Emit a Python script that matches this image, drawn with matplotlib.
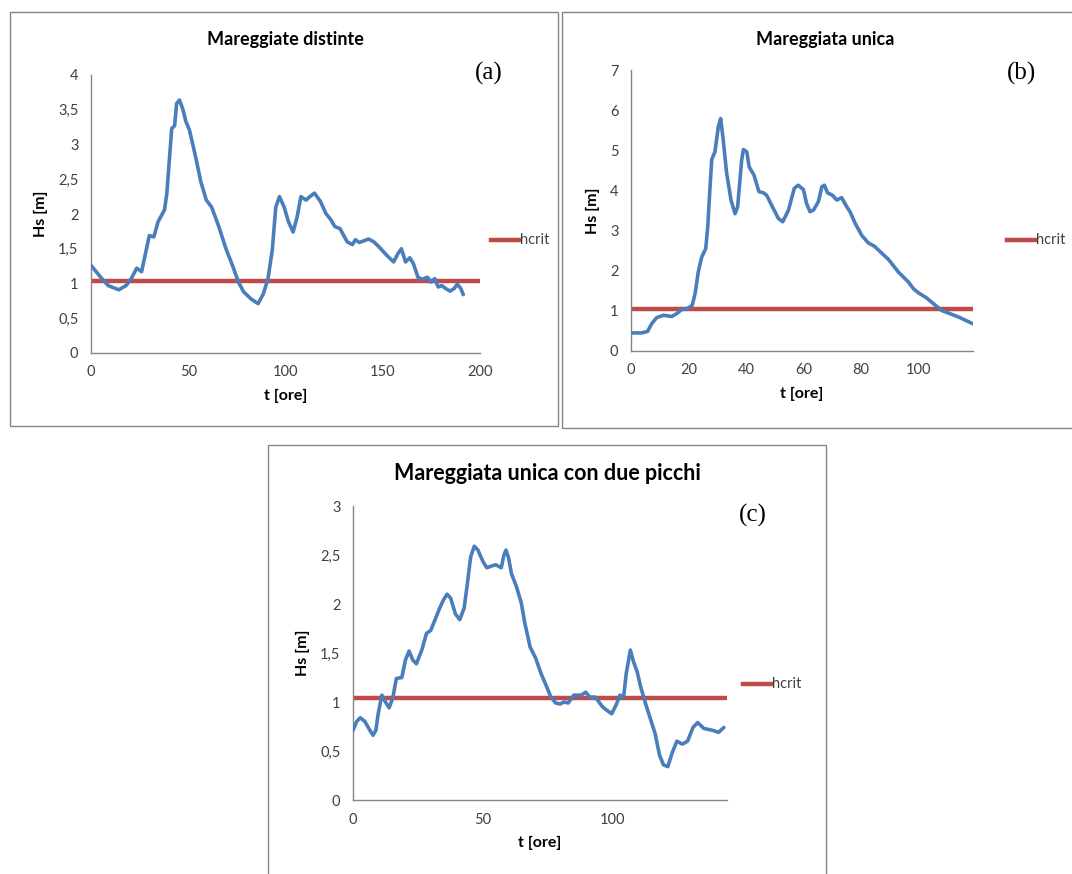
import matplotlib
matplotlib.use('Agg')
import matplotlib.pyplot as plt
from matplotlib.patches import Rectangle
from matplotlib.ticker import FuncFormatter, MultipleLocator

# --- data ---
t_a = [0, 5, 8.8, 14.3, 18, 20.7, 23.5, 26, 28, 30, 32.3, 34.5, 37.8, 39, 41.5, 43, 44,
       45.5, 47.3, 48.8, 50.6, 53.8, 56.5, 59.3, 62, 65.7, 69.4, 73, 75.8, 78.5, 82.2,
       85.9, 88.6, 91, 93.2, 95, 96.9, 99.3, 101.5, 103.9, 106, 107.9, 110.6, 112.5,
       114.9, 118, 120.7, 123.5, 125.3, 128, 131.7, 134.4, 135.9, 138, 142.7, 145.4,
       148, 151.9, 155.6, 157.8, 159.6, 161.7, 163.9, 165.7, 168.1, 170.3, 173, 174.9,
       176.7, 178.5, 180.4, 182.2, 184.6, 186.8, 188.3, 190.1, 191.4]
hs_a = [1.26, 1.09, 0.97, 0.91, 0.97, 1.07, 1.22, 1.17, 1.43, 1.69, 1.67, 1.89, 2.06, 2.30,
        3.23, 3.27, 3.59, 3.64, 3.50, 3.33, 3.21, 2.82, 2.46, 2.20, 2.10, 1.82, 1.50, 1.24,
        1.02, 0.88, 0.78, 0.71, 0.85, 1.07, 1.48, 2.10, 2.25, 2.10, 1.89, 1.74, 1.96, 2.25,
        2.20, 2.25, 2.30, 2.18, 2.01, 1.91, 1.82, 1.79, 1.60, 1.56, 1.63, 1.59, 1.64, 1.60,
        1.53, 1.41, 1.31, 1.43, 1.50, 1.31, 1.37, 1.29, 1.09, 1.06, 1.09, 1.02, 1.07, 0.95,
        0.97, 0.93, 0.89, 0.93, 0.99, 0.93, 0.84]

t_b = [0, 3.7, 5.8, 7.2, 8.9, 11.3, 14.2, 15.9, 17.6, 20, 21.3, 22.3, 23.4, 24.6, 26, 26.7,
       27.5, 28.1, 29.2, 30.4, 31.2, 32.1, 33.3, 34.8, 36.2, 37.1, 38.5, 39.1, 40.3, 41.1,
       42.8, 44.5, 46.1, 47.2, 49.5, 51.3, 52.8, 54.8, 56.8, 58.2, 60, 61.1, 62.3, 63.5,
       65.2, 66.4, 67.3, 68.4, 70.1, 71.6, 73.3, 75.1, 76.2, 78, 80.3, 82.6, 84.7, 87.2,
       89.6, 93, 96.5, 98.3, 100, 102.9, 105.2, 108.1, 111, 114.5, 118.9]
hs_b = [0.45, 0.45, 0.49, 0.68, 0.83, 0.89, 0.86, 0.93, 1.03, 1.07, 1.14, 1.43, 1.97, 2.34,
        2.55, 3.09, 4.09, 4.77, 4.96, 5.59, 5.79, 5.25, 4.42, 3.76, 3.42, 3.59, 4.75, 5.02,
        4.96, 4.59, 4.38, 3.97, 3.94, 3.88, 3.55, 3.30, 3.22, 3.51, 4.05, 4.13, 4.02, 3.67,
        3.47, 3.51, 3.72, 4.09, 4.13, 3.94, 3.88, 3.76, 3.82, 3.59, 3.47, 3.18, 2.88, 2.69,
        2.61, 2.44, 2.28, 1.97, 1.72, 1.55, 1.45, 1.32, 1.18, 1.01, 0.93, 0.83, 0.68]

t_c = [0, 1.4, 2.8, 4.6, 6.3, 7.7, 8.8, 9.7, 11.1, 12.5, 13.9, 15.3, 16.7, 18.8, 20.2, 21.6,
       23, 24.4, 26.5, 28.3, 29.9, 31.3, 33.4, 34.8, 36.2, 37.6, 39.4, 41.1, 42.8, 43.9,
       45.3, 46.7, 48.1, 50.1, 51.5, 53.6, 55, 57.1, 58.1, 58.9, 59.9, 61, 62.9, 64.8,
       66.2, 68.2, 70.3, 72.4, 74.5, 76.2, 78, 79.8, 81.2, 82.9, 85, 87.8, 89.6, 91.2,
       93.3, 96.1, 97.5, 99.6, 101.3, 102.8, 104.2, 105.2, 106.8, 108, 109.4, 110.7,
       112.8, 114.6, 116.3, 118, 119.5, 121.2, 123, 124.7, 126.8, 128.8, 130.9, 132.7,
       135.1, 138.6, 140.7, 142.8]
hs_c = [0.71, 0.80, 0.84, 0.80, 0.72, 0.66, 0.71, 0.88, 1.07, 1.00, 0.94, 1.04, 1.24, 1.25,
        1.43, 1.52, 1.43, 1.39, 1.53, 1.70, 1.73, 1.82, 1.96, 2.04, 2.10, 2.06, 1.90, 1.84,
        1.96, 2.18, 2.48, 2.59, 2.55, 2.43, 2.37, 2.39, 2.40, 2.37, 2.50, 2.55, 2.47, 2.31,
        2.18, 2.01, 1.80, 1.56, 1.45, 1.29, 1.16, 1.05, 0.99, 0.98, 1.00, 0.99, 1.07, 1.07,
        1.10, 1.05, 1.05, 0.95, 0.92, 0.88, 0.97, 1.07, 1.05, 1.29, 1.53, 1.41, 1.31, 1.16,
        0.97, 0.82, 0.68, 0.46, 0.36, 0.34, 0.49, 0.60, 0.57, 0.60, 0.74, 0.79, 0.73, 0.71,
        0.69, 0.74]

hcrit_a = 1.04
hcrit_b = 1.04
hcrit_c = 1.045
titles = ['Mareggiate distinte', 'Mareggiata unica', 'Mareggiata unica con due picchi']
tags = ['(a)', '(b)', '(c)']

BLUE = '#4a7ebb'
RED = '#be4b48'
GREY = '#868686'
W, H = 1072, 874

plt.rcParams['font.family'] = ['Lato', 'DejaVu Sans']

fig = plt.figure(figsize=(W / 100, H / 100), dpi=100)


def px_box(x0, y0, x1, y1):
    # pixel box (top-left origin) -> figure fraction rect
    return [x0 / W, 1 - y1 / H, (x1 - x0) / W, (y1 - y0) / H]


# outer chart frames
for x0, y0, x1, y1 in [(10, 12, 558, 426), (562, 12, 1080, 428), (268, 445, 826, 880)]:
    fig.patches.append(Rectangle((x0 / W, 1 - y1 / H), (x1 - x0) / W, (y1 - y0) / H,
                                 transform=fig.transFigure, fill=False,
                                 edgecolor=GREY, lw=1.0))

comma = FuncFormatter(lambda v, p: ('%g' % v).replace('.', ','))


def draw(rect, t, hs, hcrit, xmax, ymax, ystep, xstep, title, tag,
         title_xy, title_fs, tag_xy, leg_xy):
    ax = fig.add_axes(px_box(*rect))
    ax.plot(t, hs, color=BLUE, lw=2.6, solid_joinstyle='round',
            solid_capstyle='round', zorder=3)
    ax.plot([0, xmax], [hcrit, hcrit], color=RED, lw=3.2, zorder=2)
    ax.set_xlim(0, xmax)
    ax.set_ylim(0, ymax)
    ax.yaxis.set_major_locator(MultipleLocator(ystep))
    ax.xaxis.set_major_locator(MultipleLocator(xstep))
    ax.yaxis.set_major_formatter(comma)
    for s in ['top', 'right']:
        ax.spines[s].set_visible(False)
    for s in ['left', 'bottom']:
        ax.spines[s].set_color(GREY)
        ax.spines[s].set_linewidth(1.0)
    ax.tick_params(length=0, labelsize=10.5, labelcolor='#404040', pad=9)
    ax.set_xlabel('t [ore]', fontsize=11.5, fontweight='bold', labelpad=7)
    ax.set_ylabel('Hs [m]', fontsize=11.5, fontweight='bold', labelpad=7)
    fig.text(title_xy[0] / W, 1 - title_xy[1] / H, title, fontsize=title_fs,
             fontweight='bold', ha='center', va='center')
    fig.text(tag_xy[0] / W, 1 - tag_xy[1] / H, tag, fontsize=18,
             family='Liberation Serif', ha='center', va='center')
    lx, ly = leg_xy
    fig.lines.append(plt.Line2D([lx / W, (lx + 28) / W], [1 - ly / H, 1 - ly / H],
                                transform=fig.transFigure, color=RED, lw=3.2))
    fig.text((lx + 29) / W, 1 - ly / H, 'hcrit', fontsize=10.5, color='#404040',
             ha='left', va='center')
    return ax


draw((91, 75, 480, 353), t_a, hs_a, hcrit_a, 200, 4, 0.5, 50, titles[0], tags[0],
     (285, 39), 13, (489, 73), (491, 240))
draw((631, 70, 973, 351), t_b, hs_b, hcrit_b, 119, 7, 1, 20, titles[1], tags[1],
     (825, 39), 13, (1022, 73), (1007, 240))
draw((353, 506, 727, 800), t_c, hs_c, hcrit_c, 144, 3, 0.5, 50, titles[2], tags[2],
     (547, 474), 15.5, (753, 515), (743, 684))

fig.savefig('out.png', dpi=100)
